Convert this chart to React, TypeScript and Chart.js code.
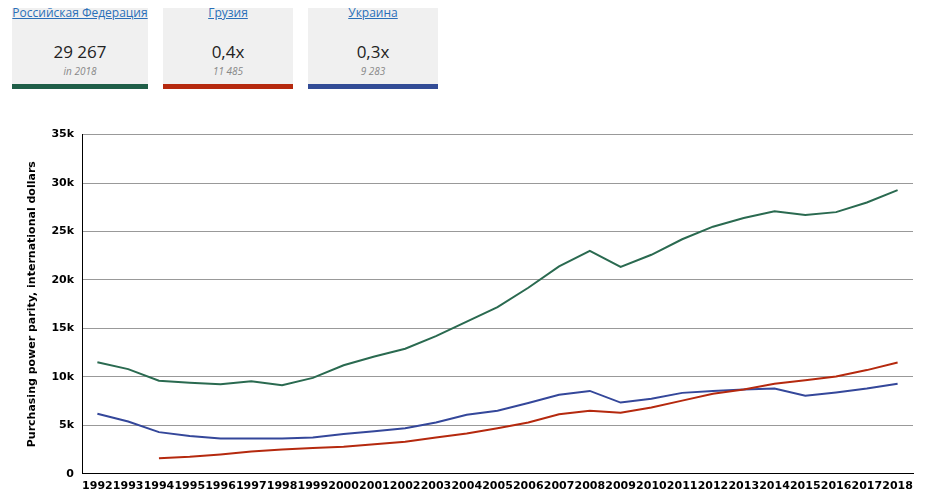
import React, { useEffect, useRef } from "react";
import { Chart, registerables } from "chart.js";
Chart.register(...registerables);

const years = ["1992","1993","1994","1995","1996","1997","1998","1999","2000","2001","2002","2003","2004","2005","2006","2007","2008","2009","2010","2011","2012","2013","2014","2015","2016","2017","2018"];
const russia = [11500,10800,9600,9400,9250,9550,9150,9900,11200,12100,12900,14200,15700,17200,19200,21400,23000,21350,22600,24200,25500,26400,27100,26700,27000,28000,29267];
const georgia = [null,null,1600,1750,2000,2300,2500,2650,2800,3050,3300,3750,4150,4700,5300,6150,6500,6300,6850,7550,8250,8700,9300,9650,10050,10700,11485];
const ukraine = [6200,5400,4300,3900,3650,3650,3650,3750,4100,4400,4700,5300,6100,6500,7300,8150,8550,7350,7750,8350,8550,8700,8800,8050,8400,8800,9283];

const cards = [
  { name: "Российская Федерация", value: "29 267", sub: "in 2018", color: "#1f5e48", left: 12, width: 136 },
  { name: "Грузия", value: "0,4x", sub: "11 485", color: "#b5290e", left: 163, width: 130 },
  { name: "Украина", value: "0,3x", sub: "9 283", color: "#324c96", left: 308, width: 130 },
];

export default function App() {
  const ref = useRef<HTMLCanvasElement>(null);
  useEffect(() => {
    const font = { family: "DejaVu Sans", size: 11, weight: "bold" as const };
    const c = new Chart(ref.current!, {
      type: "line",
      data: {
        labels: years,
        datasets: [
          { data: russia, borderColor: "#2a6a50", borderWidth: 2, pointRadius: 0, tension: 0 },
          { data: georgia, borderColor: "#b5290e", borderWidth: 2, pointRadius: 0, tension: 0 },
          { data: ukraine, borderColor: "#34479a", borderWidth: 2, pointRadius: 0, tension: 0 },
        ],
      },
      options: {
        animation: false,
        responsive: false,
        layout: { padding: { top: 8, right: 14, bottom: 9, left: 26 } },
        plugins: { legend: { display: false }, tooltip: { enabled: false } },
        scales: {
          x: {
            offset: true,
            grid: { display: false, drawTicks: true, tickLength: 5, offset: true, color: "#000" },
            border: { color: "#000" },
            ticks: { color: "#000", font, maxRotation: 0, autoSkip: false, padding: 1 },
          },
          y: {
            min: 0, max: 35000,
            afterFit: (s: any) => { s.width = 56; },
            grid: { color: "#999", drawTicks: false },
            border: { color: "#000" },
            ticks: { stepSize: 5000, color: "#000", font, padding: 8, callback: (v: any) => (v === 0 ? "0" : v / 1000 + "k") },
            title: { display: true, text: "Purchasing power parity, international dollars", color: "#000", font: { family: "DejaVu Sans", size: 11, weight: "bold" }, padding: 0 },
          },
        },
      },
    });
    return () => c.destroy();
  }, []);
  return (
    <div style={{ position: "relative", width: 927, height: 503, margin: -8, fontFamily: "'Open Sans', sans-serif" }}>
      {cards.map((k) => (
        <div key={k.name} style={{ position: "absolute", left: k.left, top: 0, width: k.width, height: 89, background: "#f0f0f0", textAlign: "center" }}>
          <div style={{ position: "absolute", top: 4, width: "100%", fontSize: 12, color: "#2a6fb8", textDecoration: "underline" }}>{k.name}</div>
          <div style={{ position: "absolute", top: 40, width: "100%", fontSize: 17, color: "#222" }}>{k.value}</div>
          <div style={{ position: "absolute", top: 64, width: "100%", fontSize: 10, color: "#888", fontStyle: "italic" }}>{k.sub}</div>
          <div style={{ position: "absolute", bottom: 0, width: "100%", height: 5, background: k.color }} />
        </div>
      ))}
      <canvas ref={ref} width={927} height={383} style={{ position: "absolute", left: 0, top: 120 }} />
    </div>
  );
}
